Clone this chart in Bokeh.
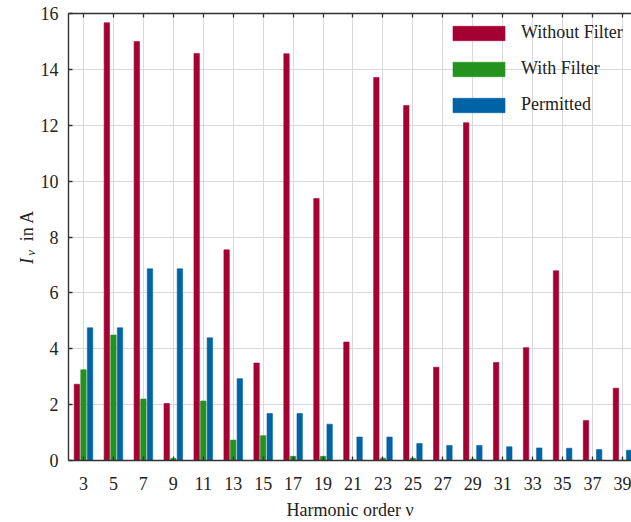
from bokeh.plotting import figure
from bokeh.models import ColumnDataSource, FixedTicker, Range1d, LinearAxis
from bokeh.core.properties import value
from bokeh.layouts import row
from bokeh.transform import dodge
from bokeh.embed import file_html
from bokeh.resources import INLINE
import math

harmonics = [3, 5, 7, 9, 11, 13, 15, 17, 19, 21, 23, 25, 27, 29, 31, 33, 35, 37, 39]
without_filter = [2.73, 15.67, 15.00, 2.04, 14.57, 7.54, 3.49, 14.56, 9.38, 4.24,
                  13.71, 12.71, 3.34, 12.09, 3.51, 4.04, 6.79, 1.43, 2.59]
with_filter = [3.25, 4.49, 2.20, 0.07, 2.13, 0.73, 0.89, 0.15, 0.15, 0.02,
               0.08, 0.08, 0.02, 0.05, 0.01, 0.01, 0.01, 0.01, 0.01]
permitted = [4.75, 4.75, 6.86, 6.86, 4.39, 2.93, 1.68, 1.68, 1.30, 0.84,
             0.84, 0.61, 0.54, 0.54, 0.49, 0.45, 0.44, 0.39, 0.37]
y_ticks = [0, 2, 4, 6, 8, 10, 12, 14, 16]
series_names = ["Without Filter", "With Filter", "Permitted"]
ylabel_parts = ["I", "\u03bd", "in A"]

RED = "#A50034"
GREEN = "#23931E"
BLUE = "#0063A6"
FONT = "'Liberation Serif', serif"
AXIS_COLOR = "#333333"
TXT = "#222222"

source = ColumnDataSource(data=dict(
    n=harmonics, without=without_filter, withf=with_filter, perm=permitted))

LAB_W = 37
y_range = Range1d(0, 16)

p = figure(width=631 - LAB_W, height=522, output_backend="svg", toolbar_location=None,
           x_range=Range1d(2, 39.6), y_range=y_range,
           min_border_left=31, min_border_right=0, min_border_top=13,
           min_border_bottom=62)
p.outline_line_color = None
p.background_fill_color = "white"
p.border_fill_color = "white"

# narrow strip (frame aligned with the plot frame) holding the rotated y title
lab = figure(width=LAB_W, height=522, output_backend="svg", toolbar_location=None,
             x_range=Range1d(0, LAB_W), y_range=y_range,
             x_axis_location=None, y_axis_location=None,
             min_border_left=0, min_border_right=0, min_border_top=13,
             min_border_bottom=62)
lab.outline_line_color = None
lab.xgrid.visible = False
lab.ygrid.visible = False
ang = math.pi / 2
lab.text(x=[26.5], y=[7.03], text=[ylabel_parts[0]], angle=ang,
         text_font=value(FONT), text_font_size="18px", text_font_style="italic",
         text_color=TXT, text_align="left", text_baseline="alphabetic")
lab.text(x=[30.0], y=[7.33], text=[ylabel_parts[1]], angle=ang,
         text_font=value(FONT), text_font_size="13px", text_font_style="italic",
         text_color=TXT, text_align="left", text_baseline="alphabetic")
lab.text(x=[26.5], y=[7.85], text=[ylabel_parts[2]], angle=ang,
         text_font=value(FONT), text_font_size="18px",
         text_color=TXT, text_align="left", text_baseline="alphabetic")

bw = 0.36
p.vbar(x=dodge("n", -0.44, range=p.x_range), top="without", width=bw, source=source,
       fill_color=RED, line_color=RED, line_alpha=0.6, legend_label=series_names[0])
p.vbar(x=dodge("n", 0.0, range=p.x_range), top="withf", width=bw, source=source,
       fill_color=GREEN, line_color=GREEN, line_alpha=0.6, legend_label=series_names[1])
p.vbar(x=dodge("n", 0.44, range=p.x_range), top="perm", width=bw, source=source,
       fill_color=BLUE, line_color=BLUE, line_alpha=0.6, legend_label=series_names[2])

xa = p.xaxis[0]
xa.ticker = FixedTicker(ticks=harmonics)
xa.axis_label = "Harmonic order \u03bd"
ya = p.yaxis[0]
ya.ticker = FixedTicker(ticks=y_ticks)
for ax in (xa, ya):
    ax.major_tick_in = 4
    ax.major_tick_out = 0
    ax.minor_tick_line_color = None
    ax.axis_line_color = AXIS_COLOR
    ax.axis_line_width = 1.4
    ax.major_tick_line_color = AXIS_COLOR
    ax.major_tick_line_width = 1.3
    ax.major_label_text_font = FONT
    ax.major_label_text_font_size = "18px"
    ax.major_label_text_color = TXT
    ax.axis_label_text_font = FONT
    ax.axis_label_text_font_size = "18px"
    ax.axis_label_text_font_style = "normal"
    ax.axis_label_text_color = TXT
xa.major_label_standoff = 16
xa.axis_label_standoff = 7
ya.major_label_standoff = 10

top_axis = LinearAxis(ticker=FixedTicker(ticks=harmonics))
top_axis.major_label_overrides = {t: "" for t in harmonics}
top_axis.major_tick_in = 4
top_axis.major_tick_out = 0
top_axis.minor_tick_line_color = None
top_axis.axis_line_color = AXIS_COLOR
top_axis.axis_line_width = 1.4
top_axis.major_tick_line_color = AXIS_COLOR
top_axis.major_tick_line_width = 1.3
top_axis.major_label_text_font_size = "1px"
top_axis.major_label_standoff = 0
p.add_layout(top_axis, "above")

p.xgrid.ticker = FixedTicker(ticks=harmonics)
p.ygrid.ticker = FixedTicker(ticks=y_ticks)
for g in (p.xgrid, p.ygrid):
    g.grid_line_color = "#d9d9d9"
    g.grid_line_width = 1

lg = p.legend[0]
lg.location = (378, 345)
lg.padding = 0
lg.margin = 0
lg.spacing = 15
lg.glyph_width = 65
lg.glyph_height = 18
lg.label_height = 21
lg.label_standoff = 10
lg.label_text_font = FONT
lg.label_text_font_size = "18px"
lg.label_text_color = TXT
lg.background_fill_alpha = 0
lg.border_line_color = None

open("out.html", "w").write(file_html(row(lab, p), INLINE))
